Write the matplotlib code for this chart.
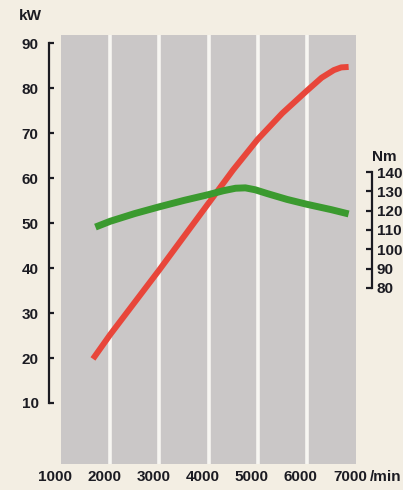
import matplotlib
matplotlib.use("Agg")
import matplotlib.pyplot as plt
import matplotlib.transforms as mtransforms

# ---- data ----
rpm_ticks = [1000, 2000, 3000, 4000, 5000, 6000, 7000]
rpm_labels = ["1000", "2000", "3000", "4000", "5000", "6000", "7000"]
kw_ticks = [10, 20, 30, 40, 50, 60, 70, 80, 90]
nm_ticks = [80, 90, 100, 110, 120, 130, 140]

power_rpm = [1650, 2000, 2500, 3000, 3500, 4000, 4500, 5000, 5500, 6000, 6300, 6550, 6700, 6850]
power_kw = [19.8, 25.2, 32.4, 39.6, 47.0, 54.4, 61.8, 68.6, 74.4, 79.4, 82.3, 84.0, 84.6, 84.7]

torque_rpm = [1700, 2000, 2500, 3000, 3500, 4000, 4300, 4550, 4750, 4950, 5200, 5600, 6000, 6500, 6850]
torque_nm = [111.5, 114.5, 118.5, 122.0, 125.3, 128.3, 130.3, 131.6, 131.8, 130.8, 128.8, 125.8, 123.3, 120.5, 118.3]

# ---- style ----
bg = "#f3eee3"
panel = "#cac7c7"
ink = "#1b1b22"
red = "#e8463a"
green = "#3b9a2f"
plt.rcParams["font.family"] = ["Liberation Sans", "DejaVu Sans"]
plt.rcParams["font.weight"] = "bold"

fig = plt.figure(figsize=(4.03, 4.90), dpi=100, facecolor=bg)
ax = fig.add_axes([61 / 403, 1 - 464 / 490, 295 / 403, 429 / 490])
ax.set_facecolor(panel)
ax.set_xlim(1000, 7000)
ax.set_ylim(-3.56, 91.8)

# white separators between columns
ax.vlines(rpm_ticks[1:-1], -3.56, 91.8, colors="#f7f6f2", linewidth=2.6, zorder=1)

for s in ["top", "right", "bottom"]:
    ax.spines[s].set_visible(False)
ax.spines["left"].set_position(("outward", 12 * 0.72))
ax.spines["left"].set_bounds(10, 90)
ax.spines["left"].set_linewidth(1.6)
ax.spines["left"].set_color(ink)
ax.set_yticks(kw_ticks)
ax.set_yticklabels([str(v) for v in kw_ticks])
ax.tick_params(axis="y", direction="in", length=3.5, width=1.6, color=ink,
               labelsize=11, labelcolor=ink, pad=7.5)

ax.set_xticks(rpm_ticks)
ax.set_xticklabels(rpm_labels)
ax.tick_params(axis="x", length=0, labelsize=11, labelcolor=ink, pad=4)
off = mtransforms.ScaledTranslation(-6 / 100, 0, fig.dpi_scale_trans)
for lab in ax.get_xticklabels():
    lab.set_transform(lab.get_transform() + off)

# torque axis
ax2 = ax.twinx()
ax2.set_ylim(-11.1, 210.9)
for s in ["top", "left", "bottom"]:
    ax2.spines[s].set_visible(False)
ax2.spines["right"].set_position(("outward", 16 * 0.72))
ax2.spines["right"].set_bounds(80, 140)
ax2.spines["right"].set_linewidth(1.6)
ax2.spines["right"].set_color(ink)
ax2.set_yticks(nm_ticks)
ax2.set_yticklabels([str(v) for v in nm_ticks])
ax2.tick_params(axis="y", direction="in", length=4, width=1.6, color=ink,
                labelsize=11, labelcolor=ink, pad=3.5)

ax.plot(power_rpm, power_kw, color=red, linewidth=4.3, solid_capstyle="butt",
        solid_joinstyle="round", zorder=3)
ax2.plot(torque_rpm, torque_nm, color=green, linewidth=5.0, solid_capstyle="butt",
         solid_joinstyle="round", zorder=3)

fig.text(30 / 403, 1 - 16 / 490, "kW", ha="center", va="center", fontsize=11, color=ink)
fig.text(384 / 403, 1 - 157 / 490, "Nm", ha="center", va="center", fontsize=11, color=ink)
fig.text(370 / 403, 1 - 477 / 490, "/min", ha="left", va="center", fontsize=11, color=ink)

fig.savefig("out.png", dpi=100, facecolor=bg)
